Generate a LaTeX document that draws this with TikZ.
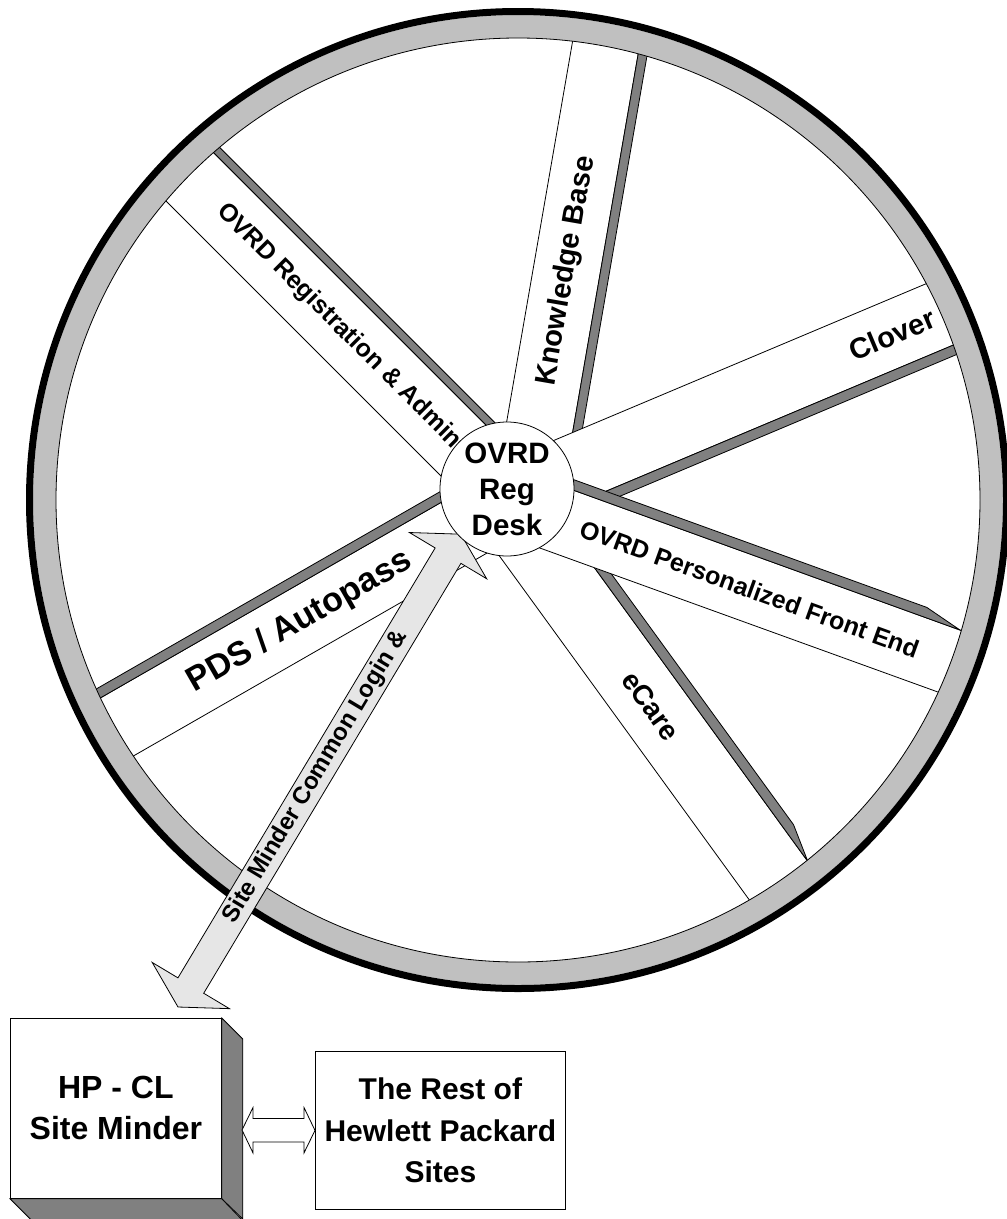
\documentclass[tikz,border=0pt]{standalone}
\usepackage{fontspec}
\setmainfont{Liberation Sans}
\definecolor{stripgray}{RGB}{128,128,128}
\definecolor{ringgray}{RGB}{192,192,192}
\definecolor{arrowfill}{RGB}{230,230,230}
\begin{document}
\begin{tikzpicture}[x=1pt,y=-1pt,
  band/.style={fill=white, draw=black, line width=0.8pt},
  strip/.style={fill=stripgray, draw=black, line width=0.8pt},
  spokelbl/.style={transform shape, inner sep=0pt, font=\bfseries\fontsize{#1}{#1}\selectfont},
  blockarrow/.style={fill=arrowfill, draw=black, line width=0.8pt},
  boxsty/.style={draw=black, fill=white, line width=0.8pt, align=center, inner sep=0pt}]
\useasboundingbox (0,0) rectangle (1007,1219);

\coordinate (hubc) at (507,489);
\coordinate (wheelc) at (518,500);

% ---------- spokes ----------
\begin{scope}
\clip (wheelc) circle[radius=468pt];
% Knowledge Base
\begin{scope}[shift={(hubc)}, rotate=80.17]
  \draw[band] (0,-11.8) rectangle (520,55);
  \draw[strip] (0,55) rectangle (520,64);
  \node[spokelbl=29] (kbl) at (225,21.6) {Knowledge Base};
\end{scope}
% Clover
\begin{scope}[shift={(hubc)}, rotate=22.83]
  \draw[band] (0,-26.6) rectangle (520,40.5);
  \draw[strip] (0,40.5) rectangle (520,50.5);
  \node[spokelbl=29] (cll) at (415,7) {Clover};
\end{scope}
% eCare
\begin{scope}[shift={(hubc)}, rotate=-54]
  \draw[band] (0,-24.5) rectangle (520,45.5);
  \draw[strip] (0,-24.5) -- (0,-34.5) -- (440,-34.5) -- (478,-24.5) -- cycle;
  \node[spokelbl=28] (ecl) at (260,11) {eCare};
\end{scope}
% OVRD Personalized Front End
\begin{scope}[shift={(hubc)}, rotate=-19.89]
  \draw[band] (0,-21.5) rectangle (520,44.3);
  \draw[strip] (0,-21.5) -- (0,-31.5) -- (435,-31.5) -- (474,-21.5) -- cycle;
  \node[spokelbl=25] (pfl) at (262,11.4) {OVRD Personalized Front End};
\end{scope}
% OVRD Registration & Admin
\begin{scope}[shift={(hubc)}, rotate=135]
  \draw[band] (0,-37.5) rectangle (520,30.4);
  \draw[strip] (0,30.4) rectangle (520,38.4);
  \node[spokelbl=25, rotate=180] (rgl) at (234,-3.6) {OVRD Registration \& Admin};
\end{scope}
% PDS / Autopass
\begin{scope}[shift={(hubc)}, rotate=-150.15]
  \draw[band] (0,-45.6) rectangle (520,21.2);
  \draw[strip] (0,21.2) rectangle (520,31);
  \node[spokelbl=34, rotate=180] (pdl) at (245.8,-12.2) {PDS / Autopass};
\end{scope}
\end{scope}

% ---------- rim ----------
\fill[ringgray, even odd rule] (wheelc) circle[radius=485pt] (wheelc) circle[radius=462pt];
\draw[line width=0.8pt] (wheelc) circle[radius=462pt];
\draw[line width=7pt] (wheelc) circle[radius=488.5pt];

% ---------- login arrow ----------
\coordinate (abot) at (178,1007);
\begin{scope}[shift={(abot)}, rotate=59.11]
  \draw[blockarrow] (0,0) -- (25,-45) -- (25,-15) -- (526,-15) -- (526,-45) -- (551,0)
        -- (526,45) -- (526,15) -- (25,15) -- (25,45) -- cycle;
  \node[spokelbl=24] (arl) at (268,0) {Site Minder Common Login \&};
\end{scope}

% ---------- hub ----------
\node[circle, draw=black, fill=white, line width=0.8pt, minimum size=134pt, inner sep=0pt,
      align=center, font=\bfseries\fontsize{29.5}{36}\selectfont] (hub) at (hubc) {OVRD\\Reg\\Desk};

% ---------- bottom boxes ----------
\node[boxsty, minimum width=211pt, minimum height=180pt, anchor=north west,
      font=\bfseries\fontsize{32}{41}\selectfont] (hpcl) at (10,1018) {HP - CL\\Site Minder};
\draw[strip] (hpcl.north east) -- ++(21,21) -- ++(0,180) -- (hpcl.south east) -- cycle;
\draw[strip] (hpcl.south west) -- ++(21,21) -- ++(211,0) -- (hpcl.south east) -- cycle;

\node[boxsty, minimum width=250pt, minimum height=158pt, anchor=north west,
      font=\bfseries\fontsize{30}{41.5}\selectfont] (rest) at (315,1051) {The Rest of\\Hewlett Packard\\Sites};

\coordinate (dl) at (242,1130);
\draw[fill=white, draw=black, line width=0.8pt] (dl) -- ++(11,-22.5) -- ++(0,11) -- ++(51,0) -- ++(0,-11)
   -- (rest.west) -- ++(-11,22.5) -- ++(0,-11) -- ++(-51,0) -- ++(0,11) -- cycle;
\end{tikzpicture}
\end{document}
